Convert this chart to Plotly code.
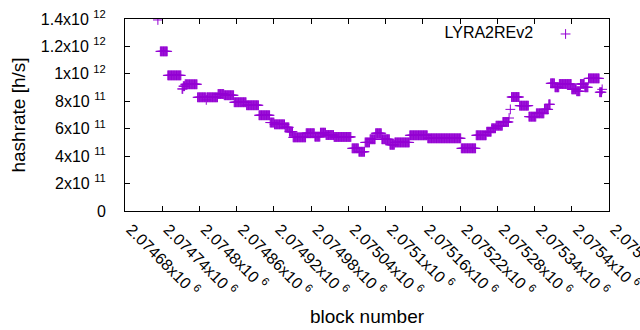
import plotly.graph_objects as go

# Runs of consecutive blocks sharing the same hashrate
run_start = [2074733, 2074737, 2074749, 2074772, 2074774, 2074777, 2074797, 2074811, 2074812,
             2074830, 2074840, 2074856, 2074876, 2074896, 2074914, 2074921, 2074938, 2074945,
             2074951, 2074972, 2074986, 2074995, 2075004, 2075017, 2075046, 2075057, 2075067,
             2075075, 2075084, 2075094, 2075107, 2075115, 2075139, 2075168, 2075222, 2075246,
             2075263, 2075271, 2075278, 2075289, 2075299, 2075301, 2075303, 2075316, 2075331,
             2075343, 2075356, 2075363, 2075366, 2075373, 2075380, 2075400, 2075408, 2075414,
             2075421, 2075427, 2075445, 2075449]
run_end = [2074733, 2074748, 2074770, 2074773, 2074776, 2074796, 2074810, 2074811, 2074829,
           2074839, 2074855, 2074875, 2074895, 2074913, 2074920, 2074937, 2074944, 2074950,
           2074971, 2074985, 2074994, 2075003, 2075016, 2075044, 2075056, 2075066, 2075074,
           2075083, 2075093, 2075106, 2075114, 2075138, 2075167, 2075221, 2075245, 2075262,
           2075270, 2075277, 2075288, 2075298, 2075299, 2075301, 2075315, 2075330, 2075342,
           2075355, 2075362, 2075365, 2075372, 2075379, 2075399, 2075407, 2075413, 2075420,
           2075426, 2075444, 2075448, 2075449]
run_value = [1.393e12, 1.164e12, 0.989e12, 0.89e12, 0.91e12, 0.924e12, 0.829e12, 0.81e12, 0.829e12,
             0.853e12, 0.844e12, 0.793e12, 0.771e12, 0.698e12, 0.645e12, 0.632e12, 0.61e12, 0.578e12,
             0.537e12, 0.567e12, 0.542e12, 0.571e12, 0.554e12, 0.540e12, 0.457e12, 0.432e12, 0.50e12,
             0.523e12, 0.567e12, 0.523e12, 0.483e12, 0.50e12, 0.552e12, 0.530e12, 0.457e12, 0.552e12,
             0.578e12, 0.603e12, 0.622e12, 0.649e12, 0.678e12, 0.741e12, 0.831e12, 0.768e12, 0.688e12,
             0.712e12, 0.741e12, 0.778e12, 0.931e12, 0.902e12, 0.926e12, 0.887e12, 0.873e12, 0.926e12,
             0.902e12, 0.967e12, 0.866e12, 0.887e12]

x_tick_vals = [2074680, 2074740, 2074800, 2074860, 2074920, 2074980, 2075040,
               2075100, 2075160, 2075220, 2075280, 2075340, 2075400, 2075460]
x_tick_text = ["2.07468x10 <sup>6</sup>", "2.07474x10 <sup>6</sup>", "2.0748x10 <sup>6</sup>",
               "2.07486x10 <sup>6</sup>", "2.07492x10 <sup>6</sup>", "2.07498x10 <sup>6</sup>",
               "2.07504x10 <sup>6</sup>", "2.0751x10 <sup>6</sup>", "2.07516x10 <sup>6</sup>",
               "2.07522x10 <sup>6</sup>", "2.07528x10 <sup>6</sup>", "2.07534x10 <sup>6</sup>",
               "2.0754x10 <sup>6</sup>", "2.07546x10 <sup>6</sup>"]
y_tick_vals = [0, 2e11, 4e11, 6e11, 8e11, 1e12, 1.2e12, 1.4e12]
y_tick_text = ["0", "2x10 <sup>11</sup>", "4x10 <sup>11</sup>", "6x10 <sup>11</sup>",
               "8x10 <sup>11</sup>", "1x10 <sup>12</sup>", "1.2x10 <sup>12</sup>", "1.4x10 <sup>12</sup>"]

blocks = []
rates = []
for s, e, v in zip(run_start, run_end, run_value):
    for b in range(s, e + 1):
        blocks.append(b)
        rates.append(v)

COLOR = "#9400D3"
FONT = "Liberation Sans, Arial, sans-serif"

fig = go.Figure()
fig.add_trace(go.Scatter(
    x=blocks, y=rates, mode="markers", name=" ",
    marker=dict(symbol="cross-thin", size=7, color=COLOR,
                line=dict(color=COLOR, width=1)),
))

fig.update_layout(
    width=640, height=330,
    margin=dict(l=125, r=31, t=19, b=119, autoexpand=False),
    paper_bgcolor="white", plot_bgcolor="white",
    font=dict(family=FONT, size=16, color="black"),
    showlegend=True,
    legend=dict(
        x=0.656, y=1.01, xanchor="left", yanchor="top",
        bgcolor="rgba(0,0,0,0)", borderwidth=0,
        title=dict(text="LYRA2REv2\u00a0", side="left", font=dict(size=16)),
        font=dict(size=16),
    ),
    xaxis=dict(
        range=[2074680, 2075460], tickvals=x_tick_vals, ticktext=x_tick_text,
        tickangle=45, ticks="inside", ticklen=5, tickcolor="black",
        showline=True, linecolor="black", linewidth=1, mirror="ticks",
        showgrid=False, zeroline=False, ticklabelstandoff=2, ticklabelshift=6,
        ticklabeloverflow="allow", automargin=False,
        title=dict(text="block number", standoff=11),
    ),
    yaxis=dict(
        range=[0, 1.4e12], tickvals=y_tick_vals, ticktext=y_tick_text,
        ticks="inside", ticklen=5, tickcolor="black",
        showline=True, linecolor="black", linewidth=1, mirror="ticks",
        showgrid=False, zeroline=False, ticklabelstandoff=15, automargin=False,
        title=dict(text="hashrate [h/s]", standoff=10),
    ),
)

fig.write_html("out.html", config={"displayModeBar": False},
               post_script="document.body.style.margin='0';document.body.style.overflow='hidden';")
